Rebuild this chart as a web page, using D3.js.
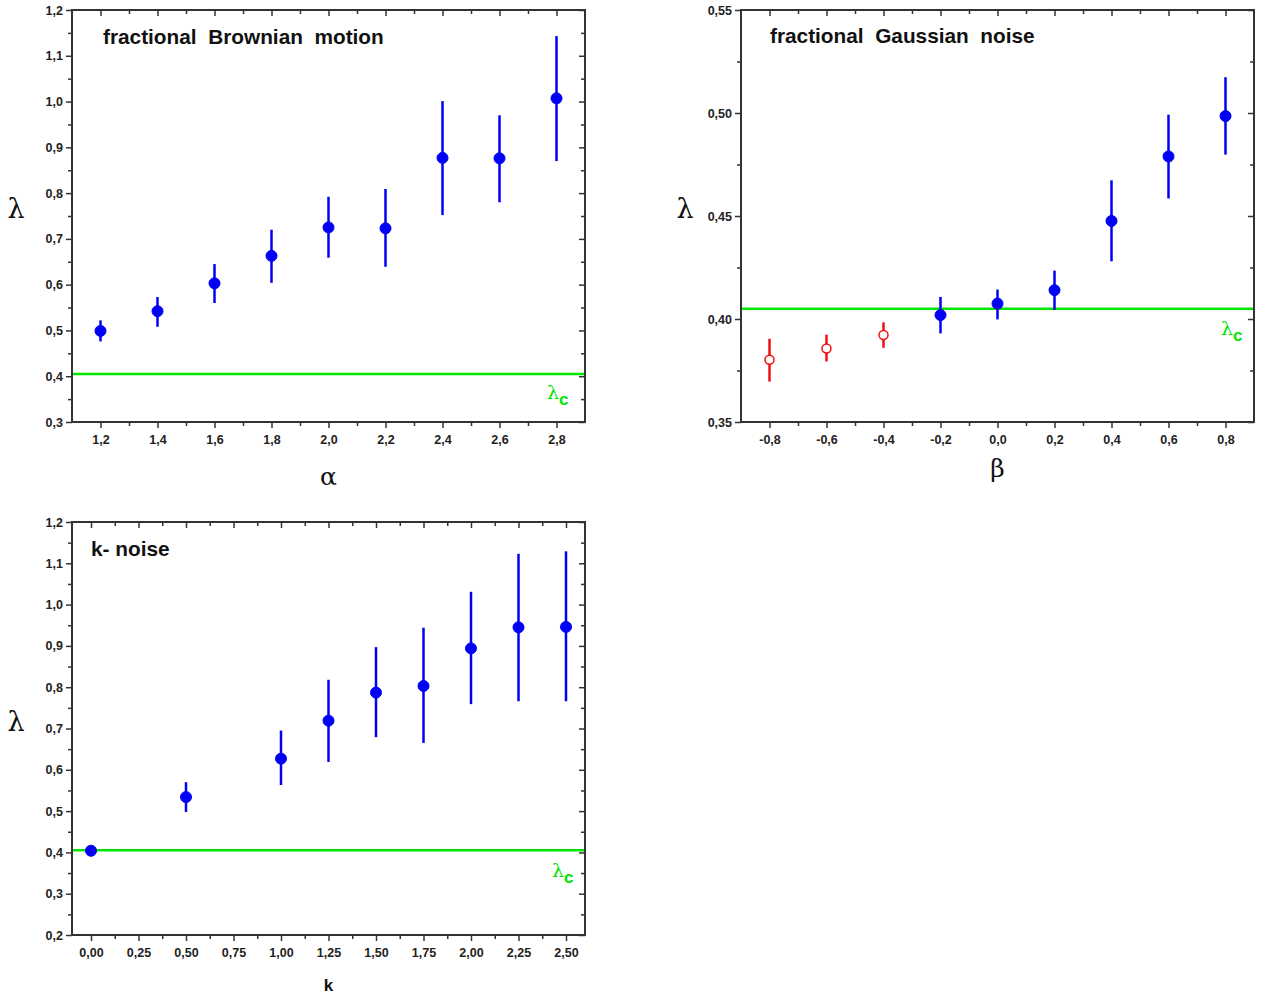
<!DOCTYPE html>
<html><head><meta charset="utf-8">
<script src="https://cdn.jsdelivr.net/npm/d3@7"></script>
<style>
html,body{margin:0;padding:0;background:#fff;}
svg{display:block;}
</style></head>
<body>
<svg id="c" width="1266" height="998"></svg>
<script>
// ---- data ----
const lambdaC = 0.405;

const fbmAlpha  = [1.2, 1.4, 1.6, 1.8, 2.0, 2.2, 2.4, 2.6, 2.8];
const fbmLambda = [0.499, 0.542, 0.603, 0.663, 0.725, 0.723, 0.877, 0.876, 1.007];
const fbmLow    = [0.476, 0.508, 0.560, 0.604, 0.659, 0.639, 0.752, 0.780, 0.870];
const fbmHigh   = [0.522, 0.573, 0.645, 0.720, 0.792, 0.809, 1.001, 0.970, 1.143];

const fgnBeta   = [-0.8, -0.6, -0.4, -0.2, 0.0, 0.2, 0.4, 0.6, 0.8];
const fgnLambda = [0.3802, 0.3857, 0.3922, 0.4019, 0.4075, 0.4140, 0.4476, 0.4789, 0.4985];
const fgnLow    = [0.3696, 0.3794, 0.3860, 0.3930, 0.3998, 0.4044, 0.4280, 0.4585, 0.4798];
const fgnHigh   = [0.3904, 0.3924, 0.3984, 0.4107, 0.4143, 0.4235, 0.4673, 0.4992, 0.5174];
const fgnOpen   = [true, true, true, false, false, false, false, false, false];

const kVals     = [0, 0.5, 1.0, 1.25, 1.5, 1.75, 2.0, 2.25, 2.5];
const kLambda   = [0.404, 0.534, 0.627, 0.719, 0.787, 0.803, 0.894, 0.945, 0.946];
const kLow      = [0.404, 0.498, 0.563, 0.619, 0.679, 0.665, 0.759, 0.766, 0.766];
const kHigh     = [0.404, 0.570, 0.695, 0.818, 0.897, 0.944, 1.031, 1.123, 1.129];

const fbmXTicks = [1.2, 1.4, 1.6, 1.8, 2.0, 2.2, 2.4, 2.6, 2.8];
const fbmYTicks = [0.3, 0.4, 0.5, 0.6, 0.7, 0.8, 0.9, 1.0, 1.1, 1.2];
const fgnXTicks = [-0.8, -0.6, -0.4, -0.2, 0.0, 0.2, 0.4, 0.6, 0.8];
const fgnYTicks = [0.35, 0.40, 0.45, 0.50, 0.55];
const kXTicks   = [0, 0.25, 0.5, 0.75, 1.0, 1.25, 1.5, 1.75, 2.0, 2.25, 2.5];
const kYTicks   = [0.2, 0.3, 0.4, 0.5, 0.6, 0.7, 0.8, 0.9, 1.0, 1.1, 1.2];

// ---- drawing ----
const svg = d3.select("#c");
const BLUE = "#0000f5", RED = "#ee1111", GREEN = "#00e600", FRAME = "#333";

function minorOf(ticks) {
  const step = ticks[1] - ticks[0];
  const out = [];
  for (let i = -1; i < ticks.length; i++) out.push(+(ticks[0] + (i + 0.5) * step).toFixed(6));
  return out;
}

function panel(o) {
  const g = svg.append("g");
  const x = d3.scaleLinear().domain(o.xDomain).range([o.left, o.right]);
  const y = d3.scaleLinear().domain(o.yDomain).range([o.bottom, o.top]);
  const fmtX = v => d3.format(o.xFmt)(v).replace(".", ",").replace("−", "-");
  const fmtY = v => d3.format(o.yFmt)(v).replace(".", ",");
  const xMinor = minorOf(o.xTicks).filter(v => x(v) > o.left + 1 && x(v) < o.right - 1);
  const yMinor = minorOf(o.yTicks).filter(v => y(v) < o.bottom - 1 && y(v) > o.top + 1);

  // bottom
  g.append("g").attr("transform", `translate(0,${o.bottom})`)
    .call(d3.axisBottom(x).tickValues(o.xTicks).tickSizeInner(6).tickSizeOuter(0).tickPadding(7).tickFormat(fmtX));
  g.append("g").attr("transform", `translate(0,${o.bottom})`)
    .call(d3.axisBottom(x).tickValues(xMinor).tickSizeInner(4).tickSizeOuter(0).tickFormat(""));
  // top (inward)
  g.append("g").attr("transform", `translate(0,${o.top})`)
    .call(d3.axisTop(x).tickValues(o.xTicks).tickSizeInner(-6).tickSizeOuter(0).tickFormat(""));
  g.append("g").attr("transform", `translate(0,${o.top})`)
    .call(d3.axisTop(x).tickValues(xMinor).tickSizeInner(-4).tickSizeOuter(0).tickFormat(""));
  // left
  g.append("g").attr("transform", `translate(${o.left},0)`)
    .call(d3.axisLeft(y).tickValues(o.yTicks).tickSizeInner(6).tickSizeOuter(0).tickPadding(3).tickFormat(fmtY));
  g.append("g").attr("transform", `translate(${o.left},0)`)
    .call(d3.axisLeft(y).tickValues(yMinor).tickSizeInner(4).tickSizeOuter(0).tickFormat(""));
  // right (inward)
  g.append("g").attr("transform", `translate(${o.right},0)`)
    .call(d3.axisRight(y).tickValues(o.yTicks).tickSizeInner(-6).tickSizeOuter(0).tickFormat(""));
  g.append("g").attr("transform", `translate(${o.right},0)`)
    .call(d3.axisRight(y).tickValues(yMinor).tickSizeInner(-4).tickSizeOuter(0).tickFormat(""));

  g.selectAll(".domain").remove();
  g.selectAll(".tick line").attr("stroke", FRAME).attr("stroke-width", 1.5);
  g.selectAll(".tick text").attr("fill", "#222").style("font-family", "Liberation Sans, Arial, sans-serif")
    .style("font-weight", "bold").style("font-size", "12.5px");

  // frame
  g.append("rect").attr("x", o.left).attr("y", o.top)
    .attr("width", o.right - o.left).attr("height", o.bottom - o.top)
    .attr("fill", "none").attr("stroke", FRAME).attr("stroke-width", 2);

  // lambda_c line
  g.append("line").attr("x1", o.left + 1).attr("x2", o.right - 1)
    .attr("y1", y(lambdaC)).attr("y2", y(lambdaC))
    .attr("stroke", GREEN).attr("stroke-width", 2.5);
  const lc = g.append("text").attr("x", o.lcX).attr("y", o.lcY).attr("fill", GREEN)
    .style("font-family", "DejaVu Serif, serif").style("font-size", "19px");
  lc.append("tspan").text("λ");
  lc.append("tspan").attr("dy", 6).style("font-family", "Liberation Sans, Arial, sans-serif")
    .style("font-weight", "bold").style("font-size", "17px").text("c");

  // data
  const pts = o.xs.map((v, i) => ({x: v, y: o.ys[i], lo: o.lo[i], hi: o.hi[i], open: o.open ? o.open[i] : false}));
  g.selectAll("line.err").data(pts.filter(d => d.hi > d.lo)).join("line").attr("class", "err")
    .attr("x1", d => x(d.x)).attr("x2", d => x(d.x))
    .attr("y1", d => y(d.lo)).attr("y2", d => y(d.hi))
    .attr("stroke", d => d.open ? RED : BLUE).attr("stroke-width", 2.5);
  g.selectAll("circle.pt").data(pts).join("circle").attr("class", "pt")
    .attr("cx", d => x(d.x)).attr("cy", d => y(d.y))
    .attr("r", d => d.open ? 4.5 : 5.5)
    .attr("fill", d => d.open ? "#fff" : BLUE)
    .attr("stroke", d => d.open ? RED : BLUE).attr("stroke-width", d => d.open ? 1.5 : 1);

  // title
  g.append("text").attr("x", o.titleX).attr("y", o.titleY).text(o.title)
    .attr("fill", "#111").style("font-family", "Liberation Sans, Arial, sans-serif")
    .style("font-weight", "bold").style("font-size", "20.8px").style("white-space", "pre")
    .attr("xml:space", "preserve");

  // axis labels
  g.append("text").attr("x", o.left - 56).attr("y", (o.top + o.bottom) / 2 + 2).text("λ")
    .attr("text-anchor", "middle").attr("fill", "#111")
    .style("font-family", "DejaVu Serif, serif").style("font-size", "27px");
  g.append("text").attr("x", (o.left + o.right) / 2).attr("y", o.xLabY).text(o.xLabel)
    .attr("text-anchor", "middle").attr("fill", "#111")
    .style("font-family", o.xLabelSerif ? "DejaVu Serif, serif" : "Liberation Sans, Arial, sans-serif")
    .style("font-weight", o.xLabelSerif ? "normal" : "bold")
    .style("font-size", o.xLabelSerif ? "25px" : "17px");
}

panel({left: 72, right: 585, top: 10, bottom: 422,
  xDomain: [1.1, 2.9], yDomain: [0.3, 1.2],
  xTicks: fbmXTicks, yTicks: fbmYTicks, xFmt: ".1f", yFmt: ".1f",
  xs: fbmAlpha, ys: fbmLambda, lo: fbmLow, hi: fbmHigh,
  title: "fractional  Brownian  motion", titleX: 103, titleY: 44,
  xLabel: "α", xLabelSerif: true, xLabY: 485, lcX: 547, lcY: 399});

panel({left: 741, right: 1254, top: 10, bottom: 422,
  xDomain: [-0.9, 0.9], yDomain: [0.35, 0.55],
  xTicks: fgnXTicks, yTicks: fgnYTicks, xFmt: ".1f", yFmt: ".2f",
  xs: fgnBeta, ys: fgnLambda, lo: fgnLow, hi: fgnHigh, open: fgnOpen,
  title: "fractional  Gaussian  noise", titleX: 770, titleY: 43,
  xLabel: "β", xLabelSerif: true, xLabY: 477, lcX: 1221, lcY: 335});

panel({left: 72, right: 585, top: 522, bottom: 935,
  xDomain: [-0.1, 2.6], yDomain: [0.2, 1.2],
  xTicks: kXTicks, yTicks: kYTicks, xFmt: ".2f", yFmt: ".1f",
  xs: kVals, ys: kLambda, lo: kLow, hi: kHigh,
  title: "k- noise", titleX: 91, titleY: 556,
  xLabel: "k", xLabelSerif: false, xLabY: 991, lcX: 552, lcY: 877});
</script>
</body></html>
